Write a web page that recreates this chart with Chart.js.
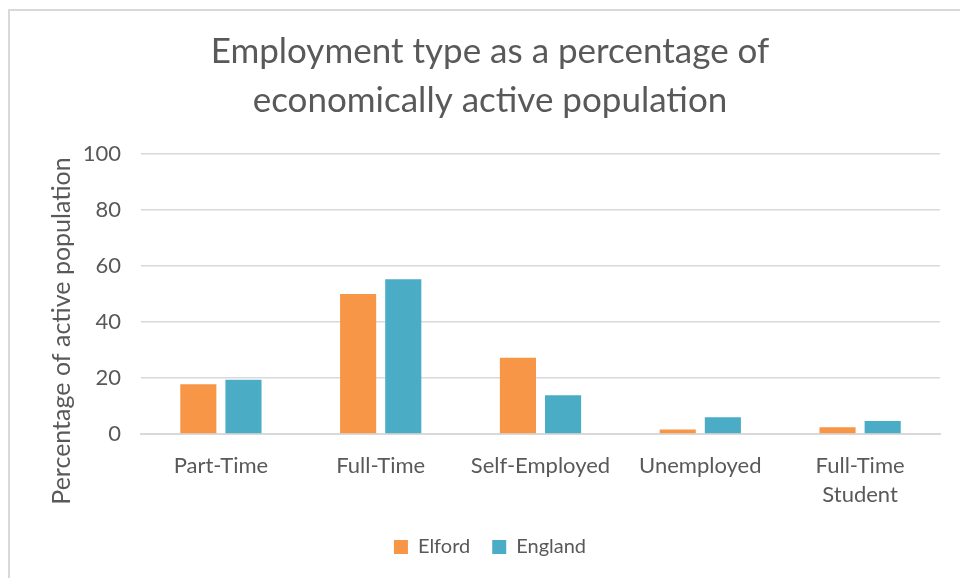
<!DOCTYPE html>
<html lang="en">
<head>
  <meta charset="UTF-8">
  <title>Employment type</title>
  <script src="https://cdn.jsdelivr.net/npm/chart.js"></script>
  <style>
    html, body { margin: 0; padding: 0; background: #fff; overflow: hidden; }
    #frame { position: absolute; left: 8px; top: 9px; width: 1000px; height: 600px;
             border-left: 2px solid #d9d9d9; border-top: 2px solid #d9d9d9; }
    #chart { position: absolute; left: 0; top: 0; }
  </style>
</head>
<body>
  <div id="frame"></div>
  <canvas id="chart" width="980" height="578"></canvas>

  <script>
    const categories = ['Part-Time', 'Full-Time', 'Self-Employed', 'Unemployed', ['Full-Time', 'Student']];
    const elford = [17.8, 50.0, 27.2, 1.6, 2.4];
    const england = [19.4, 55.3, 13.8, 6.0, 4.6];
    const yTicks = [0, 20, 40, 60, 80, 100];

    const font = 'Lato, "Noto Sans", sans-serif';
    const grey = '#595959';

    // y axis title, placed like the Excel original (not centred on the axis)
    const yTitle = {
      id: 'yTitle',
      afterDraw(chart) {
        const ctx = chart.ctx;
        ctx.save();
        ctx.translate(62, 331);
        ctx.rotate(-Math.PI / 2);
        ctx.font = '25px ' + font;
        ctx.fillStyle = grey;
        ctx.textAlign = 'center';
        ctx.textBaseline = 'middle';
        ctx.fillText('Percentage of active population', 0, 0);
        ctx.restore();
      }
    };

    new Chart(document.getElementById('chart'), {
      type: 'bar',
      data: {
        labels: categories,
        datasets: [
          { label: 'Elford', data: elford, backgroundColor: '#f79646' },
          { label: 'England', data: england, backgroundColor: '#4bacc6' }
        ]
      },
      options: {
        responsive: false,
        animation: false,
        categoryPercentage: 0.565,
        barPercentage: 0.8,
        layout: { padding: { left: 40, right: 40, top: 17, bottom: 11 } },
        plugins: {
          title: {
            display: true,
            text: ['Employment type as a percentage of', 'economically active population'],
            color: grey,
            font: { family: font, size: 35, weight: 'normal', lineHeight: 1.4 },
            padding: { top: 10, bottom: 29 }
          },
          legend: {
            position: 'bottom',
            labels: {
              color: grey,
              font: { family: font, size: 20 },
              boxWidth: 14, boxHeight: 14, padding: 22
            }
          },
          tooltip: { enabled: false }
        },
        scales: {
          x: {
            grid: { display: false },
            border: { color: '#d9d9d9', width: 2 },
            ticks: { color: grey, font: { family: font, size: 22, lineHeight: 1.3 }, maxRotation: 0, padding: 10 },
            afterFit: axis => { axis.height = 81; }
          },
          y: {
            min: 0, max: 100,
            afterBuildTicks: axis => { axis.ticks = yTicks.map(v => ({ value: v })); },
            grid: { color: '#d9d9d9', lineWidth: 1.5, drawTicks: false },
            border: { display: false },
            ticks: { color: grey, font: { family: font, size: 22 }, padding: 20 },
            afterFit: axis => { axis.width = 101; }
          }
        }
      },
      plugins: [yTitle]
    });
  </script>
</body>
</html>
